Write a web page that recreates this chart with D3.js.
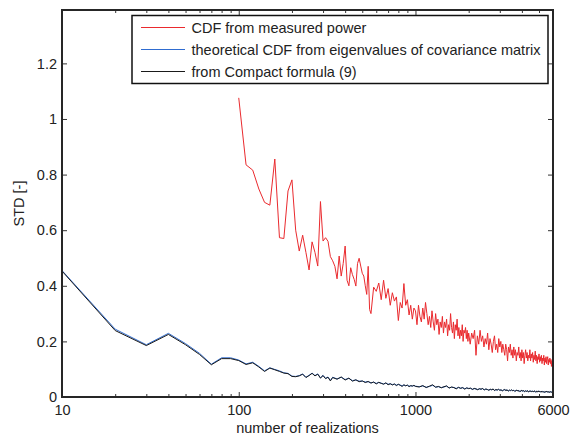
<!DOCTYPE html>
<html>
<head>
<meta charset="utf-8">
<script src="https://cdn.jsdelivr.net/npm/d3@7"></script>
<style>
  body { margin: 0; background: #fff; }
  svg { display: block; font-family: "Liberation Sans", Arial, sans-serif; }
  .axis text { font-size: 14.5px; fill: #222; }
  .axis path { display: none; }
  .axis line { stroke: #333; }
</style>
</head>
<body>
<svg id="chart" width="576" height="435"></svg>
<script>
// sample positions (number of realizations) for each piece of the curves
var redX = [].concat(d3.range(100, 551, 10), d3.range(560, 981, 20), d3.range(1000, 2001, 20), d3.range(2040, 6001, 40));
var blackX = [].concat(d3.range(10, 341, 10), d3.range(360, 1001, 20), d3.range(1050, 6001, 50));

// CDF from measured power
var redVals = [
  1.076, 0.835, 0.816, 0.748, 0.700, 0.690, 0.856, 0.573, 0.570, 0.741,
  0.781, 0.600, 0.525, 0.582, 0.520, 0.457, 0.558, 0.520, 0.471, 0.703,
  0.561, 0.573, 0.560, 0.505, 0.490, 0.470, 0.425, 0.507, 0.435, 0.480,
  0.543, 0.420, 0.400, 0.465, 0.440, 0.423, 0.399, 0.480, 0.499, 0.471,
  0.445, 0.435, 0.400, 0.369, 0.470, 0.315,
  // 560..980
  0.300, 0.395, 0.380, 0.410, 0.350, 0.420, 0.355, 0.390, 0.330, 0.375,
  0.345, 0.360, 0.275, 0.340, 0.320, 0.408, 0.330, 0.350, 0.295, 0.330,
  0.280, 0.320,
  // 1000..2000
  0.31, 0.26, 0.33, 0.29, 0.27, 0.32, 0.28, 0.34, 0.30, 0.26,
  0.29, 0.25, 0.31, 0.27, 0.24, 0.30, 0.26, 0.28, 0.225, 0.27,
  0.25, 0.29, 0.23, 0.27, 0.25, 0.28, 0.22, 0.26, 0.24, 0.30,
  0.25, 0.23, 0.27, 0.21, 0.26, 0.24, 0.28, 0.22, 0.25, 0.21,
  0.24, 0.22, 0.26, 0.20, 0.24, 0.23, 0.25, 0.21, 0.24, 0.20,
  0.23,
  // 2040..6000
  0.19, 0.23, 0.21, 0.24,
  0.15, 0.22, 0.19, 0.24, 0.20, 0.22, 0.18, 0.21, 0.19, 0.23,
  0.17, 0.21, 0.19, 0.16, 0.20, 0.22, 0.17, 0.19, 0.16, 0.21,
  0.18, 0.20, 0.16, 0.19, 0.17, 0.15, 0.19, 0.17, 0.13, 0.18,
  0.16, 0.19, 0.15, 0.17, 0.14, 0.18, 0.15, 0.17, 0.13, 0.16,
  0.15, 0.18, 0.14, 0.16, 0.13, 0.17, 0.14, 0.16, 0.12, 0.15,
  0.17, 0.14, 0.16, 0.13, 0.15, 0.14, 0.17, 0.13, 0.155, 0.14,
  0.16, 0.125, 0.15, 0.135, 0.165, 0.13, 0.15, 0.12, 0.145, 0.135,
  0.155, 0.125, 0.145, 0.13, 0.15, 0.12, 0.14, 0.13, 0.15, 0.115,
  0.14, 0.125, 0.145, 0.12, 0.135, 0.145, 0.115, 0.135, 0.125, 0.14,
  0.12, 0.135, 0.11, 0.13, 0.115, 0.10
];

// theoretical CDF from eigenvalues of covariance matrix
var blueVals = [
  0.455, 0.244, 0.188, 0.229, 0.192, 0.157, 0.118, 0.141, 0.141, 0.133,
  0.119, 0.125, 0.110, 0.094, 0.105, 0.099, 0.094, 0.087, 0.085, 0.075,
  0.074, 0.077, 0.083, 0.071, 0.078, 0.086, 0.077, 0.083, 0.069, 0.078,
  0.067, 0.072, 0.059, 0.071,
  0.065, 0.071, 0.063, 0.067, 0.059, 0.061, 0.057, 0.057, 0.054, 0.055,
  0.051, 0.053, 0.049, 0.052, 0.050, 0.047, 0.050, 0.046, 0.047, 0.045,
  0.046, 0.043, 0.045, 0.043, 0.040, 0.043, 0.041, 0.042, 0.039, 0.040,
  0.040, 0.041, 0.039,
  0.037, 0.040, 0.035, 0.038, 0.042, 0.036, 0.037, 0.034, 0.036, 0.039,
  0.033, 0.035, 0.034, 0.031, 0.034, 0.032, 0.033, 0.030, 0.032, 0.031,
  0.031, 0.028, 0.030, 0.029, 0.027, 0.029, 0.028, 0.030, 0.026, 0.028,
  0.027, 0.025, 0.027, 0.026, 0.028, 0.024, 0.026, 0.025, 0.027, 0.025,
  0.025, 0.023, 0.025, 0.026, 0.024, 0.025, 0.022, 0.024, 0.023, 0.025,
  0.023, 0.024, 0.021, 0.023, 0.024, 0.022, 0.023, 0.020, 0.022, 0.023,
  0.021, 0.022, 0.020, 0.022, 0.021, 0.022, 0.019, 0.021, 0.020, 0.021,
  0.020, 0.021, 0.019, 0.021, 0.020, 0.018, 0.020, 0.019, 0.021, 0.019,
  0.020, 0.019, 0.020, 0.018, 0.020, 0.019, 0.017, 0.019, 0.018, 0.020,
  0.018, 0.019, 0.018, 0.019, 0.017, 0.019, 0.018, 0.018, 0.019, 0.018
];

// from Compact formula (9)
var blackVals = [
  0.453, 0.239, 0.185, 0.225, 0.188, 0.153, 0.116, 0.138, 0.138, 0.131,
  0.117, 0.123, 0.108, 0.092, 0.104, 0.098, 0.092, 0.086, 0.084, 0.074,
  0.073, 0.076, 0.082, 0.070, 0.077, 0.085, 0.076, 0.082, 0.068, 0.077,
  0.066, 0.071, 0.058, 0.070,
  0.064, 0.072, 0.061, 0.068, 0.057, 0.062, 0.055, 0.058, 0.052, 0.056,
  0.050, 0.054, 0.047, 0.053, 0.049, 0.046, 0.051, 0.044, 0.048, 0.043,
  0.047, 0.041, 0.046, 0.042, 0.038, 0.044, 0.040, 0.043, 0.037, 0.041,
  0.039, 0.042, 0.038,
  0.036, 0.041, 0.034, 0.039, 0.044, 0.035, 0.038, 0.033, 0.037, 0.040,
  0.032, 0.036, 0.034, 0.029, 0.035, 0.031, 0.034, 0.028, 0.033, 0.030,
  0.032, 0.027, 0.031, 0.029, 0.026, 0.030, 0.028, 0.031, 0.025, 0.029,
  0.027, 0.024, 0.028, 0.026, 0.029, 0.023, 0.027, 0.025, 0.028, 0.024,
  0.026, 0.022, 0.025, 0.027, 0.023, 0.026, 0.021, 0.025, 0.023, 0.026,
  0.022, 0.024, 0.020, 0.023, 0.025, 0.021, 0.023, 0.019, 0.022, 0.024,
  0.021, 0.023, 0.019, 0.022, 0.020, 0.023, 0.018, 0.021, 0.020, 0.022,
  0.019, 0.021, 0.018, 0.022, 0.020, 0.017, 0.021, 0.019, 0.022, 0.018,
  0.020, 0.018, 0.021, 0.017, 0.020, 0.019, 0.016, 0.020, 0.018, 0.021,
  0.017, 0.019, 0.018, 0.020, 0.016, 0.019, 0.018, 0.017, 0.020, 0.018
];

var xMajor = [10, 100, 1000, 6000];
var xMajorLabels = ["10", "100", "1000", "6000"];
var xMinor = [20, 30, 40, 50, 60, 70, 80, 90, 200, 300, 400, 500, 600, 700, 800, 900, 2000, 3000, 4000, 5000];
var yTicks = [0, 0.2, 0.4, 0.6, 0.8, 1, 1.2];
var yTickLabels = ["0", "0.2", "0.4", "0.6", "0.8", "1", "1.2"];

var seriesNames = ["CDF from measured power", "theoretical CDF from eigenvalues of covariance matrix", "from Compact formula (9)"];
var seriesColors = ["#ea2a2e", "#2f6cd0", "#1a1a1a"];

//-----------------------

var svg = d3.select("#chart");
var pLeft = 62, pRight = 553, pTop = 10, pBottom = 397;

var x = d3.scaleLog().domain([10, 6000]).range([pLeft, pRight]);
var y = d3.scaleLinear().domain([0, 1.392]).range([pBottom, pTop]);

function zip(xs, vs) {
  var out = [];
  for (var i = 0; i < Math.min(xs.length, vs.length); i++) out.push([xs[i], vs[i]]);
  return out;
}

var series = [zip(redX, redVals), zip(blackX, blueVals), zip(blackX, blackVals)];

var line = d3.line()
  .x(function(d) { return x(d[0]); })
  .y(function(d) { return y(d[1]); });

var plot = svg.append("g");
series.forEach(function(s, i) {
  plot.append("path")
    .datum(s)
    .attr("fill", "none")
    .attr("stroke", seriesColors[i])
    .attr("stroke-width", 1)
    .attr("stroke-linejoin", "round")
    .attr("d", line);
});

// axes, ticks pointing inward on all four sides
svg.append("g").attr("class", "axis")
  .attr("transform", "translate(0," + pBottom + ")")
  .call(d3.axisBottom(x).tickValues(xMajor).tickSize(-5).tickPadding(8)
    .tickFormat(function(d, i) { return xMajorLabels[i]; }));
svg.append("g").attr("class", "axis")
  .attr("transform", "translate(0," + pBottom + ")")
  .call(d3.axisBottom(x).tickValues(xMinor).tickSize(-3).tickFormat(""));
svg.append("g").attr("class", "axis")
  .attr("transform", "translate(0," + pTop + ")")
  .call(d3.axisTop(x).tickValues(xMajor).tickSize(-5).tickFormat(""));
svg.append("g").attr("class", "axis")
  .attr("transform", "translate(0," + pTop + ")")
  .call(d3.axisTop(x).tickValues(xMinor).tickSize(-3).tickFormat(""));
svg.append("g").attr("class", "axis")
  .attr("transform", "translate(" + pLeft + ",0)")
  .call(d3.axisLeft(y).tickValues(yTicks).tickSize(-5).tickPadding(5)
    .tickFormat(function(d, i) { return yTickLabels[i]; }));
svg.append("g").attr("class", "axis")
  .attr("transform", "translate(" + pRight + ",0)")
  .call(d3.axisRight(y).tickValues(yTicks).tickSize(-5).tickFormat(""));

svg.append("rect")
  .attr("x", pLeft).attr("y", pTop)
  .attr("width", pRight - pLeft).attr("height", pBottom - pTop)
  .attr("fill", "none")
  .attr("stroke", "#262626")
  .attr("stroke-width", 2);

svg.append("text")
  .attr("x", (pLeft + pRight) / 2).attr("y", 433)
  .attr("text-anchor", "middle")
  .style("font-size", "14.5px").style("fill", "#222")
  .text("number of realizations");

svg.append("text")
  .attr("transform", "translate(24," + (pTop + pBottom) / 2 + ") rotate(-90)")
  .attr("text-anchor", "middle")
  .style("font-size", "14.5px").style("fill", "#222")
  .text("STD [-]");

// legend
var legend = svg.append("g");
legend.append("rect")
  .attr("x", 132).attr("y", 15.5)
  .attr("width", 416).attr("height", 68)
  .attr("fill", "#fff")
  .attr("stroke", "#111")
  .attr("stroke-width", 1.5);

seriesNames.forEach(function(name, i) {
  var ry = 27.5 + i * 22;
  legend.append("line")
    .attr("x1", 141).attr("x2", 185)
    .attr("y1", ry).attr("y2", ry)
    .style("stroke", seriesColors[i])
    .style("stroke-width", 1.2);
  legend.append("text")
    .attr("x", 191.5).attr("y", ry + 5)
    .style("font-size", "14.5px").style("fill", "#222")
    .text(name);
});
</script>
</body>
</html>
